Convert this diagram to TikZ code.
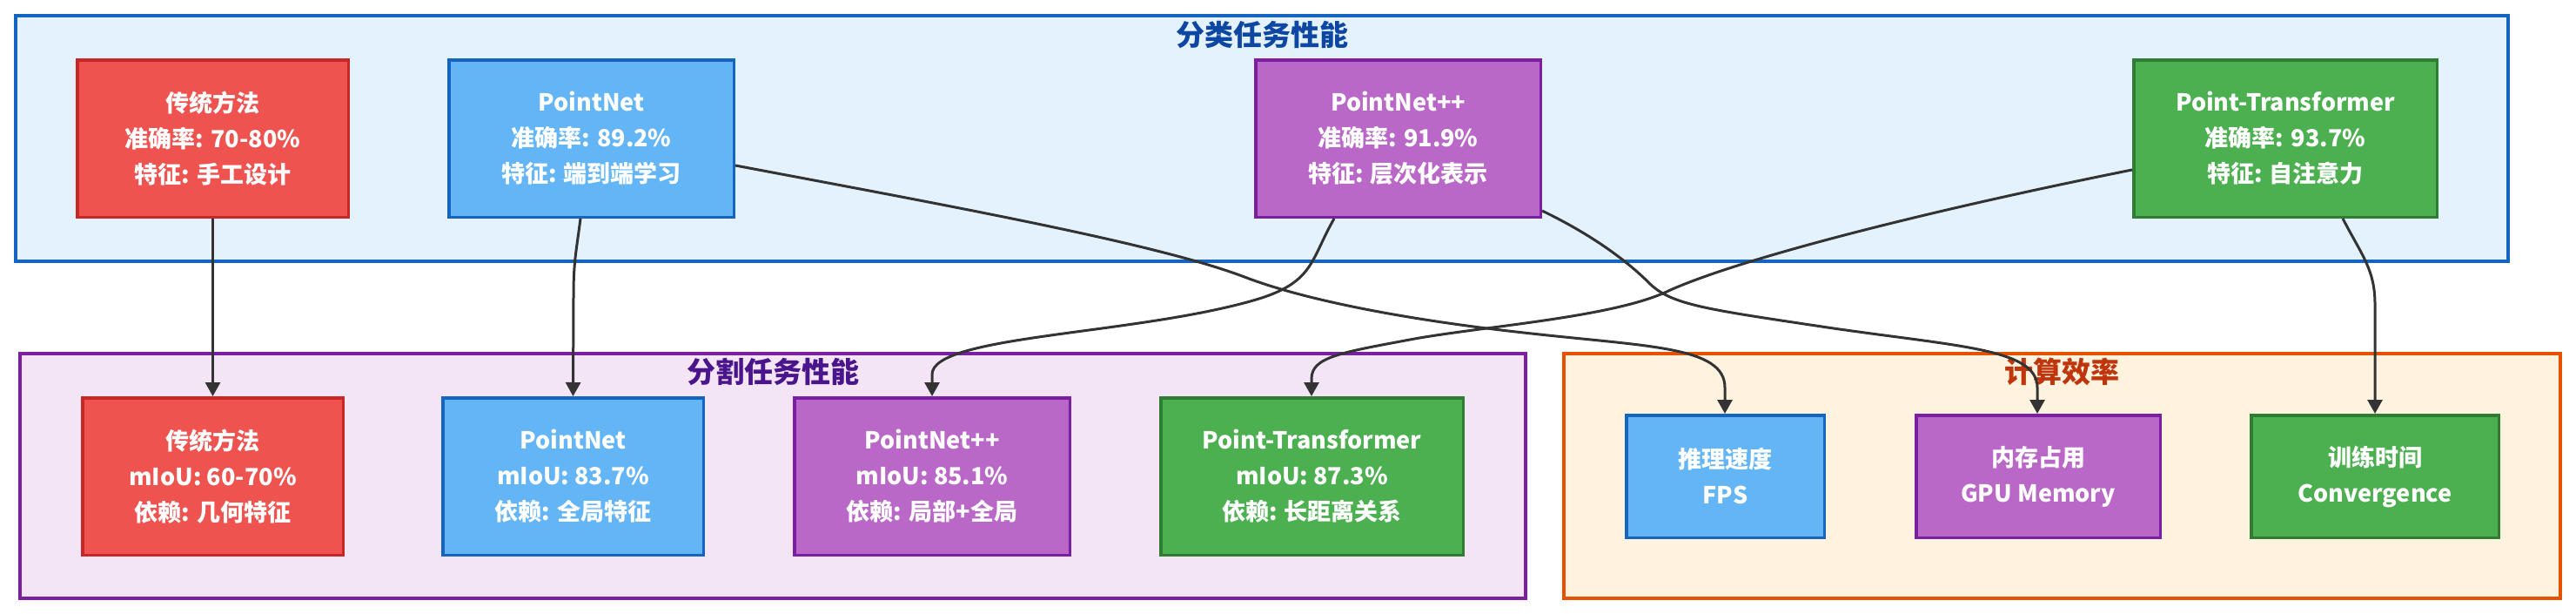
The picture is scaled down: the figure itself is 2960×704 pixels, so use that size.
\documentclass[tikz,border=0pt]{standalone}
\usepackage{fontspec}
\setmainfont{Noto Sans CJK SC}
\usetikzlibrary{arrows.meta,calc}
\definecolor{c1fill}{HTML}{E3F2FD}\definecolor{c1draw}{HTML}{1565C0}\definecolor{c1text}{HTML}{0D47A1}
\definecolor{c2fill}{HTML}{F3E5F5}\definecolor{c2draw}{HTML}{7B1FA2}\definecolor{c2text}{HTML}{4A148C}
\definecolor{c3fill}{HTML}{FFF3E0}\definecolor{c3draw}{HTML}{E65100}\definecolor{c3text}{HTML}{BF360C}
\definecolor{rfill}{HTML}{EF5350}\definecolor{rdraw}{HTML}{C62828}
\definecolor{bfill}{HTML}{64B5F6}\definecolor{bdraw}{HTML}{1565C0}
\definecolor{pfill}{HTML}{BA68C8}\definecolor{pdraw}{HTML}{7B1FA2}
\definecolor{gfill}{HTML}{4CAF50}\definecolor{gdraw}{HTML}{2E7D32}
\definecolor{edgec}{HTML}{333333}
\begin{document}
\begin{tikzpicture}[x=1pt,y=-1pt,
  cluster/.style={draw,line width=4pt,inner sep=0pt},
  ctitle/.style={font=\bfseries\fontsize{33}{40}\selectfont,inner sep=0pt},
  box/.style={draw,line width=3.5pt,text=white,font=\bfseries\fontsize{27}{41}\selectfont,align=center,inner sep=0pt,minimum height=180.5pt},
  ebox/.style={box,minimum height=140.5pt},
  redbox/.style={fill=rfill,draw=rdraw},
  bluebox/.style={fill=bfill,draw=bdraw},
  purplebox/.style={fill=pfill,draw=pdraw},
  greenbox/.style={fill=gfill,draw=gdraw},
  conn/.style={draw=edgec,line width=3pt,-{Triangle[length=16pt,width=17pt]}}]
\useasboundingbox (0,0) rectangle (2960,704);
\fill[white] (0,0) rectangle (2960,704);
% clusters
\node[cluster,fill=c1fill,draw=c1draw,minimum width=2864pt,minimum height=282pt] (k1) at (1450,159) {};
\node[cluster,fill=c2fill,draw=c2draw,minimum width=1730pt,minimum height=281pt] (k2) at (888,546.5) {};
\node[cluster,fill=c3fill,draw=c3draw,minimum width=1145pt,minimum height=281pt] (k3) at (2369.5,546.5) {};
\node[ctitle,text=c1text] (t1) at (1450,40) {分类任务性能};
\node[ctitle,text=c2text] (t2) at (888,427) {分割任务性能};
\node[ctitle,text=c3text] (t3) at (2369.5,427) {计算效率};
% classification
\node[box,redbox,minimum width=311.5pt] (a1) at (244.5,159) {传统方法\\准确率: 70-80\%\\特征: 手工设计};
\node[box,bluebox,minimum width=327.5pt] (a2) at (679.5,159) {PointNet\\准确率: 89.2\%\\特征: 端到端学习};
\node[box,purplebox,minimum width=327.5pt] (a3) at (1606.5,159) {PointNet++\\准确率: 91.9\%\\特征: 层次化表示};
\node[box,greenbox,minimum width=348.5pt] (a4) at (2626,159) {Point-Transformer\\准确率: 93.7\%\\特征: 自注意力};
% segmentation
\node[box,redbox,minimum width=299.5pt] (b1) at (244.5,547) {传统方法\\mIoU: 60-70\%\\依赖: 几何特征};
\node[box,bluebox,minimum width=299.5pt] (b2) at (658.5,547) {PointNet\\mIoU: 83.7\%\\依赖: 全局特征};
\node[box,purplebox,minimum width=316.5pt] (b3) at (1071,547) {PointNet++\\mIoU: 85.1\%\\依赖: 局部+全局};
\node[box,greenbox,minimum width=347.5pt] (b4) at (1507.5,547) {Point-Transformer\\mIoU: 87.3\%\\依赖: 长距离关系};
% efficiency
\node[ebox,bluebox,minimum width=227.5pt] (c1) at (1982.5,547) {推理速度\\FPS};
\node[ebox,purplebox,minimum width=280.5pt] (c2) at (2342,547) {内存占用\\GPU Memory};
\node[ebox,greenbox,minimum width=284.5pt] (c3) at (2729,547) {训练时间\\Convergence};
% connectors
\draw[conn] (a1.south) -- (b1.north);
\draw[conn] ([xshift=-12.5pt]a2.south) .. controls (662,290) and (659,300) .. (659,340) -- (b2.north);
\draw[conn] ([yshift=-31pt]a2.east) .. controls (1100,238) and (1330,280) .. (1430,318)
  .. controls (1500,345) and (1620,368) .. (1760,383)
  .. controls (1895,398) and (1982,398) .. (1982,445) -- ([xshift=-0.5pt]c1.north);
\draw[conn] ([xshift=-73.5pt]a3.south) .. controls (1505,300) and (1510,325) .. (1440,345)
  .. controls (1300,385) and (1071,385) .. (1071,430) -- (b3.north);
\draw[conn] ([yshift=-83pt]a3.east) .. controls (1830,270) and (1870,300) .. (1895,325)
  .. controls (1920,350) and (1960,355) .. (2100,376)
  .. controls (2250,398) and (2341,400) .. (2341,445) -- ([xshift=-1pt]c2.north);
\draw[conn] ([yshift=-36pt]a4.west) .. controls (2200,245) and (1990,300) .. (1915,335)
  .. controls (1850,365) and (1700,375) .. (1620,390)
  .. controls (1540,405) and (1507,410) .. (1507,435) -- ([xshift=-0.5pt]b4.north);
\draw[conn] ([xshift=66pt]a4.south) .. controls (2715,295) and (2729,310) .. (2729,350) -- (c3.north);
\end{tikzpicture}
\end{document}
